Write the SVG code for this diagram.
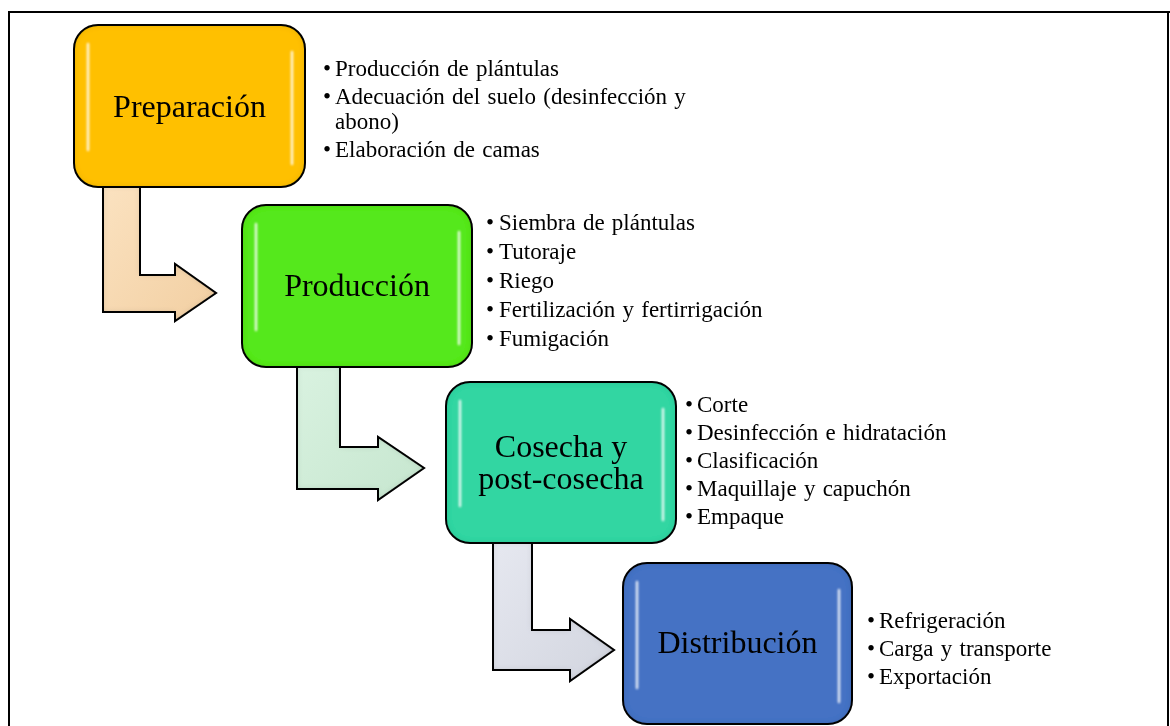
<svg xmlns="http://www.w3.org/2000/svg" width="1170" height="726" viewBox="0 0 1170 726">
<style>
.box{stroke:#111;stroke-width:2}
.lbl{font-family:'Liberation Serif','Tinos','Times New Roman','DejaVu Serif',serif;font-size:32px;fill:#000;text-anchor:middle}
.li{font-family:'Liberation Serif','Tinos','Times New Roman','DejaVu Serif',serif;font-size:23px;word-spacing:1.5px;fill:#000}
.arrow{stroke:#111;stroke-width:2;stroke-linejoin:miter}
.hl{stroke:#fff;stroke-width:2.5;stroke-linecap:round;fill:none;opacity:0.85}
.frame{stroke:#000;stroke-width:2;fill:none}
</style>
<defs>
<linearGradient id="g1" x1="0" y1="0" x2="1" y2="1"><stop offset="0" stop-color="#FBE2C0"/><stop offset="1" stop-color="#F2CFA2"/></linearGradient>
<linearGradient id="g2" x1="0" y1="0" x2="1" y2="1"><stop offset="0" stop-color="#D9F2E0"/><stop offset="1" stop-color="#C6E6CF"/></linearGradient>
<linearGradient id="g3" x1="0" y1="0" x2="1" y2="1"><stop offset="0" stop-color="#E6E8F0"/><stop offset="1" stop-color="#D2D5DF"/></linearGradient>
<filter id="inner" x="-10%" y="-10%" width="120%" height="120%">
<feGaussianBlur in="SourceAlpha" stdDeviation="3" result="b"/>
<feComposite in="SourceAlpha" in2="b" operator="out" result="edge"/>
<feFlood flood-color="#000" flood-opacity="0.35"/>
<feComposite in2="edge" operator="in" result="sh"/>
<feMerge><feMergeNode in="SourceGraphic"/><feMergeNode in="sh"/></feMerge>
</filter>
<filter id="soft" x="-50%" y="-10%" width="200%" height="120%"><feGaussianBlur stdDeviation="0.8"/></filter>
</defs>
<rect width="1170" height="726" fill="#fff"/>
<path class="frame" d="M9,726 V12 H1170 M1168,12 V726"/>

<g id="connectors">
<polygon class="arrow" fill="url(#g1)" filter="url(#inner)" points="103,186 140,186 140,275 175,275 175,264 216,293 175,321 175,312 103,312"/>
<polygon class="arrow" fill="url(#g2)" filter="url(#inner)" points="297,366 340,366 340,447 378,447 378,437 424,468 378,500 378,489 297,489"/>
<polygon class="arrow" fill="url(#g3)" filter="url(#inner)" points="493,542 532,542 532,630 570,630 570,619 614,650 570,681 570,670 493,670"/>
</g>

<g id="node-preparacion">
<rect class="box" x="74" y="25" width="231" height="162" rx="24" fill="#FFC000" filter="url(#inner)"/>
<g filter="url(#soft)"><line class="hl" x1="88" y1="44" x2="88" y2="150"/><line class="hl" x1="292" y1="52" x2="292" y2="164"/></g>
<text class="lbl" x="189.5" y="117">Preparación</text>
</g>
<g id="list-preparacion">
<text class="li" x="323" y="76">•</text><text class="li" x="335" y="76">Producción de plántulas</text>
<text class="li" x="323" y="104">•</text><text class="li" x="335" y="104">Adecuación del suelo (desinfección y</text>
<text class="li" x="335" y="129">abono)</text>
<text class="li" x="323" y="157">•</text><text class="li" x="335" y="157">Elaboración de camas</text>
</g>

<g id="node-produccion">
<rect class="box" x="242" y="205" width="230" height="162" rx="24" fill="#55E81C" filter="url(#inner)"/>
<g filter="url(#soft)"><line class="hl" x1="256" y1="224" x2="256" y2="330"/><line class="hl" x1="459" y1="232" x2="459" y2="344"/></g>
<text class="lbl" x="357" y="296">Producción</text>
</g>
<g id="list-produccion">
<text class="li" x="486" y="230">•</text><text class="li" x="499" y="230">Siembra de plántulas</text>
<text class="li" x="486" y="259">•</text><text class="li" x="499" y="259">Tutoraje</text>
<text class="li" x="486" y="288">•</text><text class="li" x="499" y="288">Riego</text>
<text class="li" x="486" y="317">•</text><text class="li" x="499" y="317">Fertilización y fertirrigación</text>
<text class="li" x="486" y="346">•</text><text class="li" x="499" y="346">Fumigación</text>
</g>

<g id="node-cosecha">
<rect class="box" x="446" y="382" width="230" height="161" rx="24" fill="#30D6A2" filter="url(#inner)"/>
<g filter="url(#soft)"><line class="hl" x1="460" y1="401" x2="460" y2="506"/><line class="hl" x1="663" y1="409" x2="663" y2="520"/></g>
<text class="lbl" x="561" y="457">Cosecha y</text>
<text class="lbl" x="561" y="489">post-cosecha</text>
</g>
<g id="list-cosecha">
<text class="li" x="685" y="412">•</text><text class="li" x="697" y="412">Corte</text>
<text class="li" x="685" y="440">•</text><text class="li" x="697" y="440">Desinfección e hidratación</text>
<text class="li" x="685" y="468">•</text><text class="li" x="697" y="468">Clasificación</text>
<text class="li" x="685" y="496">•</text><text class="li" x="697" y="496">Maquillaje y capuchón</text>
<text class="li" x="685" y="524">•</text><text class="li" x="697" y="524">Empaque</text>
</g>

<g id="node-distribucion">
<rect class="box" x="623" y="563" width="229" height="161" rx="24" fill="#4472C4" filter="url(#inner)"/>
<g filter="url(#soft)"><line class="hl" x1="637" y1="582" x2="637" y2="688"/><line class="hl" x1="839" y1="590" x2="839" y2="702"/></g>
<text class="lbl" x="737.5" y="653">Distribución</text>
</g>
<g id="list-distribucion">
<text class="li" x="867" y="628">•</text><text class="li" x="879" y="628">Refrigeración</text>
<text class="li" x="867" y="656">•</text><text class="li" x="879" y="656">Carga y transporte</text>
<text class="li" x="867" y="684">•</text><text class="li" x="879" y="684">Exportación</text>
</g>
</svg>
